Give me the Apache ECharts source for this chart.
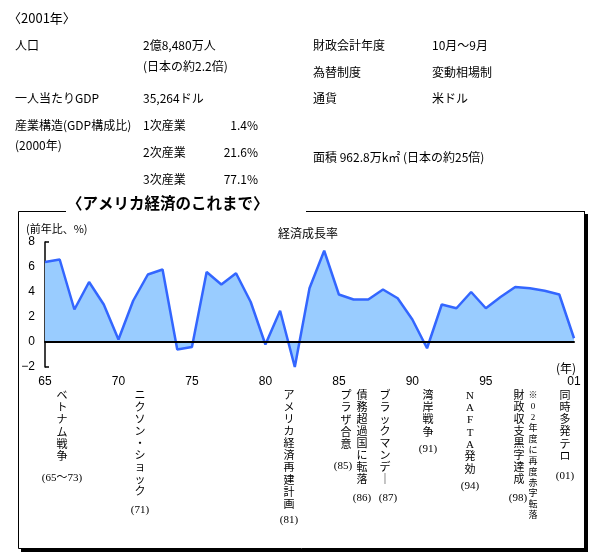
<!DOCTYPE html>
<html><head><meta charset="utf-8">
<script src="https://cdn.jsdelivr.net/npm/echarts@6/dist/echarts.min.js"></script>
<style>html,body{margin:0;padding:0;background:#fff}#c{width:606px;height:560px}</style>
</head><body><div id="c"></div>
<script>
// ---- data ----
const years = [1965,1966,1967,1968,1969,1970,1971,1972,1973,1974,1975,1976,1977,1978,1979,1980,1981,1982,1983,1984,1985,1986,1987,1988,1989,1990,1991,1992,1993,1994,1995,1996,1997,1998,1999,2000,2001];
const growth = [6.4,6.6,2.6,4.8,3.0,0.2,3.3,5.4,5.8,-0.6,-0.4,5.6,4.6,5.5,3.2,-0.2,2.5,-2.0,4.3,7.3,3.8,3.4,3.4,4.2,3.5,1.8,-0.5,3.0,2.7,4.0,2.7,3.6,4.4,4.3,4.1,3.8,0.3];
const tickYears = [1965,1970,1975,1980,1985,1990,1995,2001];
const tickLabels = ['65','70','75','80','85','90','95','01'];
const yTicks = [-2,0,2,4,6,8];
const infoLeft = [['人口','2億8,480万人'],['','(日本の約2.2倍)'],['一人当たりGDP','35,264ドル'],['産業構造(GDP構成比)','1次産業'],['(2000年)',''],['','2次産業'],['','3次産業']];
const infoPct = ['1.4%','21.6%','77.1%'];
const infoRight = [['財政会計年度','10月〜9月'],['為替制度','変動相場制'],['通貨','米ドル'],['面積 962.8万k㎡ (日本の約25倍)','']];
const events = ['ベトナム戦争','ニクソン・ショック','アメリカ経済再建計画','プラザ合意','債務超過国に転落','ブラックマンデー','湾岸戦争','NAFTA発効','財政収支黒字達成','※02年度に再度赤字転落','同時多発テロ'];
const eventNotes = ['(65〜73)','(71)','(81)','(85)','(86)','(87)','(91)','(94)','(98)','','(01)'];

// ---- layout ----
const SANS = "'Noto Sans CJK JP','Liberation Sans',sans-serif";
const SERIF = "'Liberation Serif','DejaVu Serif','Noto Sans CJK JP',serif";
const evLayout = [ // x, noteX, noteY, fontSize, step
 [62,62,478,11,12.3],[140,140,510,11,12],[289,289,520,11,12.1],[346,343,466,11,12.4],
 [362,362,498,11,12],[385,388,498,11,12],[428,428,449,11,12.3],[470,470,486,11,12.3],
 [519,518,498,11,12],[533,0,0,9,10.9],[565,565,476,11,12.2]];
const leftRowsY = [45,66,98,125,145,152,179];
const pctY = [125,152,179];
const rightRowsY = [45,72,98,157];

const g = [];
function txt(t,x,y,o){o=o||{};g.push({type:'text',z:10,style:Object.assign({text:t,x:x,y:y,fill:'#000',font:(o.w||'normal')+' '+(o.s||12)+'px '+(o.f||SANS),textAlign:o.a||'left',textVerticalAlign:o.v||'middle'},o.lh?{lineHeight:o.lh}:{})});}
txt('〈2001年〉',8,18,{s:13});
infoLeft.forEach((r,i)=>{ if(r[0]) txt(r[0],15,leftRowsY[i]); if(r[1]) txt(r[1],143,leftRowsY[i]); });
infoPct.forEach((p,i)=>txt(p,258,pctY[i],{a:'right'}));
infoRight.forEach((r,i)=>{ txt(r[0],313,rightRowsY[i]); if(r[1]) txt(r[1],432,rightRowsY[i]); });
// frame
function ln(x1,y1,x2,y2,w){g.push({type:'line',z:10,shape:{x1,y1,x2,y2},style:{stroke:'#000',lineWidth:w||1}});}
ln(18.5,211.5,66,211.5); ln(306,211.5,585,211.5); ln(18.5,211.5,18.5,548.5); ln(18.5,548.5,585,548.5); ln(584.5,211.5,584.5,548.5);
g.push({type:'rect',z:10,shape:{x:585,y:214,width:3,height:338},style:{fill:'#000'}});
g.push({type:'rect',z:10,shape:{x:21,y:549,width:567,height:3},style:{fill:'#000'}});
txt('〈アメリカ経済のこれまで〉',67,203,{s:15.5,w:'bold'});
txt('(前年比、%)',26,229,{s:11});
txt('経済成長率',308,233,{s:12,a:'center'});
txt('(年)',566,368,{s:12,a:'center'});
events.forEach((e,i)=>{
  const [x,nx,ny,fs,st]=evLayout[i];
  const chars=Array.from(e).map(c=>c==='ー'?'｜':c).join('\n');
  txt(chars,x,396-st/2,{s:fs,a:'center',v:'top',lh:st,f:SERIF});
  if(eventNotes[i]) txt(eventNotes[i],nx,ny,{s:11,a:'center',f:SERIF});
});

const chart = echarts.init(document.getElementById('c'));
chart.setOption({
  animation:false,
  grid:{left:45,right:32,top:242,bottom:193,containLabel:false},
  xAxis:{type:'category',data:years.map(String),boundaryGap:false,z:5,
    axisLine:{onZero:true,lineStyle:{color:'#000',width:2}},axisTick:{show:false},
    axisLabel:{interval:0,margin:9,fontSize:12,color:'#000',fontFamily:'Liberation Sans',
      formatter:(v)=>{const k=tickYears.indexOf(+v);return k>=0?tickLabels[k]:'';}},
    splitLine:{show:false}},
  yAxis:{type:'value',min:yTicks[0],max:yTicks[yTicks.length-1],interval:2,
    axisLine:{show:true,lineStyle:{color:'#000',width:1.5}},
    axisTick:{show:true,inside:true,length:4,lineStyle:{color:'#000',width:1.5}},
    axisLabel:{margin:10,fontSize:12,color:'#000',fontFamily:'Liberation Sans',formatter:v=>v<0?'−'+Math.abs(v):String(v)},
    splitLine:{show:false}},
  series:[{type:'line',data:growth,symbol:'none',z:2,
    lineStyle:{color:'#3366ff',width:2.5},areaStyle:{color:'#99ccff',opacity:1}}],
  graphic:{elements:g}
});
</script></body></html>
